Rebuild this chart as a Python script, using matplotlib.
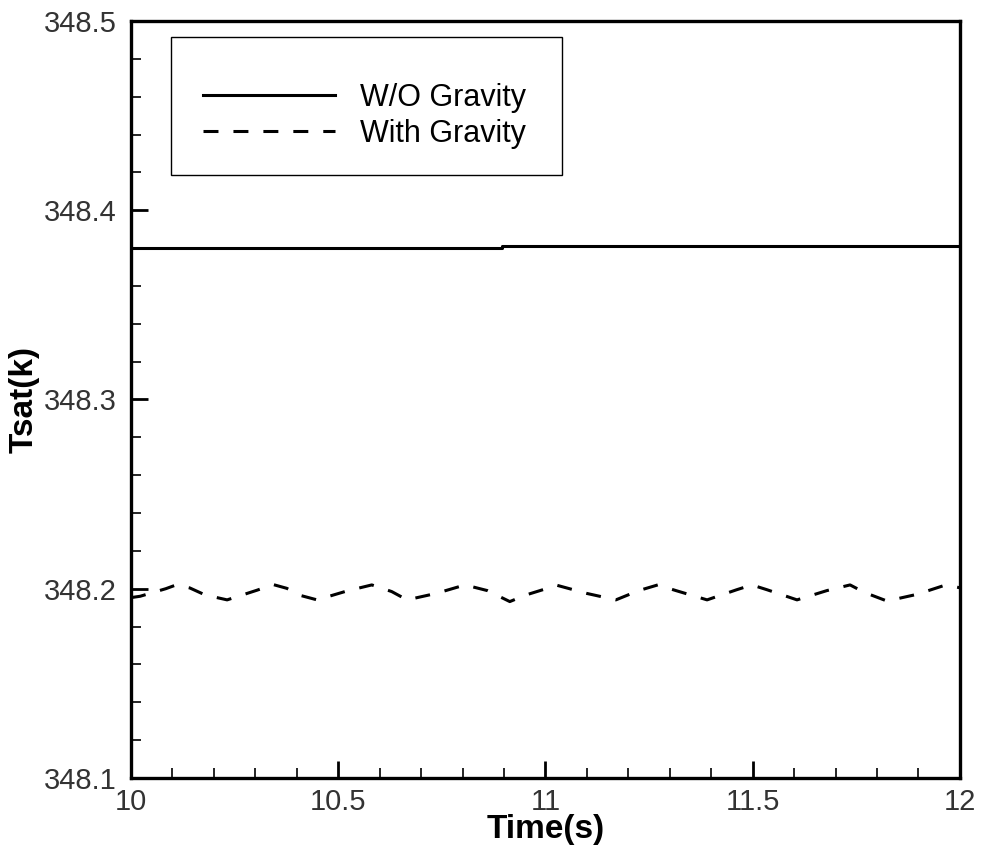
import numpy as np
import matplotlib
matplotlib.use("Agg")
import matplotlib.pyplot as plt
from matplotlib.ticker import MultipleLocator
from matplotlib.patches import Rectangle

plt.rcParams['font.family'] = ['Liberation Sans', 'DejaVu Sans']

# W/O gravity: flat line with a tiny step near t=10.89
t_nograv = [10.0, 10.894, 10.894, 12.0]
T_nograv = [348.3802, 348.3802, 348.3813, 348.3813]

# With gravity: small oscillation around 348.198
t_grav = [10.000, 10.022, 10.084, 10.109, 10.142, 10.179, 10.232, 10.304,
          10.343, 10.376, 10.408, 10.449, 10.521, 10.581, 10.629, 10.666,
          10.736, 10.806, 10.860, 10.914, 10.953, 11.028, 11.100, 11.170,
          11.225, 11.271, 11.315, 11.390, 11.462, 11.498, 11.534, 11.607,
          11.679, 11.735, 11.770, 11.824, 11.896, 11.966, 12.000]
T_grav = [348.1953, 348.1960, 348.2000, 348.2020, 348.2004, 348.1967, 348.1941, 348.1992,
          348.2022, 348.2002, 348.1965, 348.1941, 348.1988, 348.2020, 348.1985, 348.1941,
          348.1975, 348.2020, 348.1990, 348.1932, 348.1967, 348.2018, 348.1975, 348.1941,
          348.1990, 348.2020, 348.1990, 348.1941, 348.1995, 348.2020, 348.1995, 348.1941,
          348.1990, 348.2020, 348.1980, 348.1935, 348.1970, 348.2020, 348.2005]

fig = plt.figure(figsize=(9.81, 8.52), dpi=100)
ax = fig.add_axes([0.1335, 0.0869, 0.845, 0.8885])

ax.plot(t_nograv, T_nograv, color='black', lw=2.2, label='W/O Gravity')
ax.plot(t_grav, T_grav, color='black', lw=2.2, dashes=(4.9, 4.9), label='With Gravity')

ax.set_xlim(10, 12)
ax.set_ylim(348.1, 348.5)
ax.xaxis.set_minor_locator(MultipleLocator(0.1))
ax.yaxis.set_minor_locator(MultipleLocator(0.02))
ax.set_xticks([10, 10.5, 11, 11.5, 12])
ax.set_xticklabels(['10', '10.5', '11', '11.5', '12'])
ax.set_yticks([348.1, 348.2, 348.3, 348.4, 348.5])
ax.set_yticklabels(['348.1', '348.2', '348.3', '348.4', '348.5'])

ax.tick_params(which='both', direction='in', top=False, right=False,
               labelsize=21, labelcolor='#333333')
ax.tick_params(which='major', length=12.5, width=2)
ax.tick_params(which='minor', length=7, width=1.2)
ax.tick_params(axis='x', pad=7)
ax.tick_params(axis='y', pad=10)
for s in ax.spines.values():
    s.set_linewidth(2.4)

ax.set_xlabel('Time(s)', fontsize=24, fontweight='bold', labelpad=-1)
ax.set_ylabel('Tsat(k)', fontsize=24, fontweight='bold', labelpad=3)

leg = ax.legend(loc='upper left', bbox_to_anchor=(0.0869, 0.9184), borderaxespad=0,
                fontsize=22, handlelength=4.32, handletextpad=0.82, borderpad=0,
                labelspacing=0.2, frameon=False)
ax.add_patch(Rectangle((0.0483, 0.7966), 0.4716, 0.1823, transform=ax.transAxes,
                       facecolor='white', edgecolor='black', lw=1.0, zorder=4))
leg.set_zorder(5)

fig.savefig('out.png', dpi=100)
